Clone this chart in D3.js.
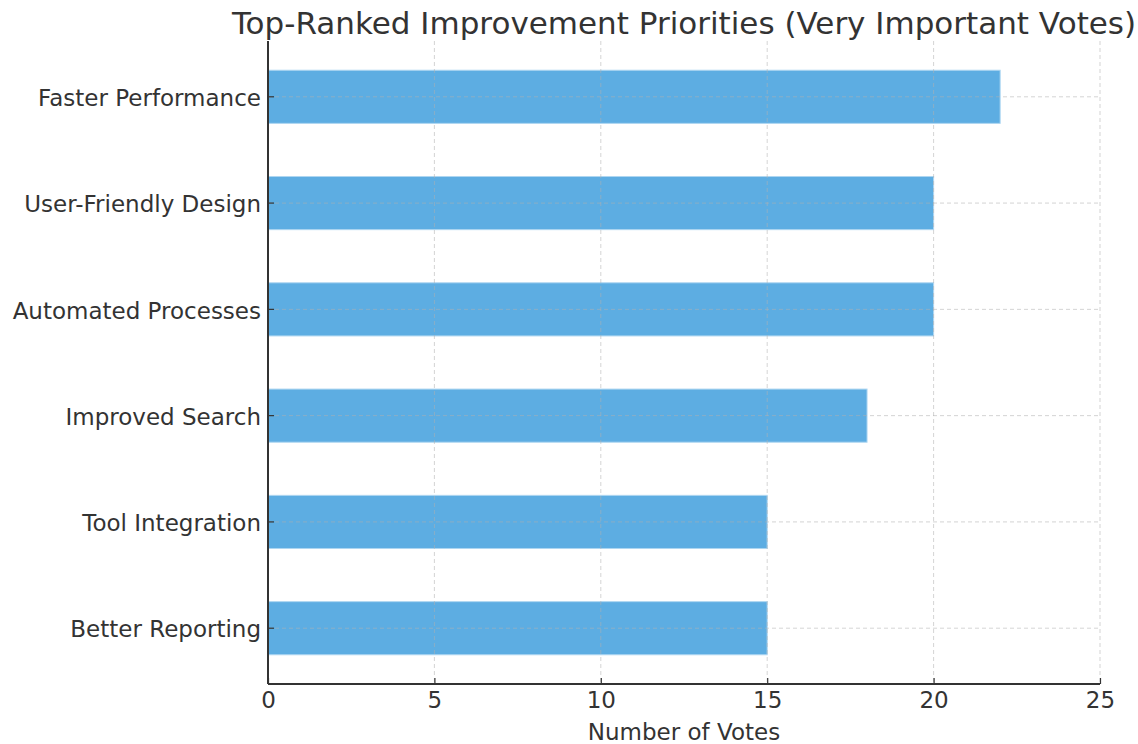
<!DOCTYPE html>
<html>
<head>
<meta charset="utf-8">
<script src="https://cdn.jsdelivr.net/npm/d3@7"></script>
<style>
    body { margin: 0; background: #fff; }
    svg text { font-family: "DejaVu Sans", sans-serif; }
    .grid line { stroke: #b0b0b0; stroke-opacity: 0.55; stroke-dasharray: 4,3; }
</style>
</head>
<body>
<div id="chart"></div>
<script>
// data, top to bottom
const categories = ["Faster Performance", "User-Friendly Design", "Automated Processes",
    "Improved Search", "Tool Integration", "Better Reporting"];
const votes = [22, 20, 20, 18, 15, 15];
const xTicks = [0, 5, 10, 15, 20, 25];

const width = 1138, height = 744;
const margin = {top: 41, right: 38, bottom: 60, left: 268};
const innerW = width - margin.left - margin.right;
const innerH = height - margin.top - margin.bottom;
const textColor = "#333333";

const svg = d3.select("#chart").append("svg")
    .attr("width", width)
    .attr("height", height);

const g = svg.append("g")
    .attr("transform", "translate(" + margin.left + "," + margin.top + ")");

const x = d3.scaleLinear().domain([0, 25]).range([0, innerW]);
const y = d3.scaleBand()
    .domain(categories)
    .range([0, innerH])
    .paddingInner(0.5)
    .paddingOuter(0.275);

// bars
g.selectAll("rect.bar")
    .data(categories)
    .enter().append("rect")
    .attr("class", "bar")
    .attr("x", x(0))
    .attr("y", d => y(d))
    .attr("width", (d, i) => x(votes[i]) - x(0))
    .attr("height", y.bandwidth())
    .attr("fill", "#5dade2")
    .attr("stroke", "#aed6f1")
    .attr("stroke-width", 1);

// grid on top of bars
const grid = g.append("g").attr("class", "grid");
grid.selectAll("line.vx")
    .data(xTicks)
    .enter().append("line")
    .attr("x1", d => x(d)).attr("x2", d => x(d))
    .attr("y1", 0).attr("y2", innerH);
grid.selectAll("line.hy")
    .data(categories)
    .enter().append("line")
    .attr("x1", 0).attr("x2", innerW)
    .attr("y1", d => y(d) + y.bandwidth() / 2)
    .attr("y2", d => y(d) + y.bandwidth() / 2);

// axes
const xAxis = d3.axisBottom(x).tickValues(xTicks).tickSizeInner(-6).tickSizeOuter(0).tickPadding(8);
const yAxis = d3.axisLeft(y).tickSizeInner(-6).tickSizeOuter(0).tickPadding(7);

const xAxisSvg = g.append("g")
    .attr("transform", "translate(0," + innerH + ")")
    .call(xAxis);
xAxisSvg.select(".domain").remove();
xAxisSvg.selectAll(".tick line").attr("stroke", textColor).attr("stroke-width", 1.2);
xAxisSvg.selectAll(".tick text")
    .attr("fill", textColor)
    .style("font-size", "23px")
    .attr("dy", "0.71em");

const yAxisSvg = g.append("g").call(yAxis);
yAxisSvg.select(".domain").remove();
yAxisSvg.selectAll(".tick line").attr("stroke", textColor).attr("stroke-width", 1.2);
yAxisSvg.selectAll(".tick text")
    .attr("fill", textColor)
    .attr("dy", "0.4em")
    .style("font-size", "23px");

// spines
g.append("line")
    .attr("x1", 0).attr("x2", 0).attr("y1", 0).attr("y2", innerH)
    .attr("stroke", textColor).attr("stroke-width", 2);
g.append("line")
    .attr("x1", 0).attr("x2", innerW).attr("y1", innerH).attr("y2", innerH)
    .attr("stroke", textColor).attr("stroke-width", 2);

// labels
svg.append("text")
    .attr("x", margin.left + innerW / 2)
    .attr("y", 34)
    .attr("text-anchor", "middle")
    .attr("fill", textColor)
    .style("font-size", "31px")
    .text("Top-Ranked Improvement Priorities (Very Important Votes)");

svg.append("text")
    .attr("x", margin.left + innerW / 2)
    .attr("y", 740)
    .attr("text-anchor", "middle")
    .attr("fill", textColor)
    .style("font-size", "23px")
    .text("Number of Votes");
</script>
</body>
</html>
